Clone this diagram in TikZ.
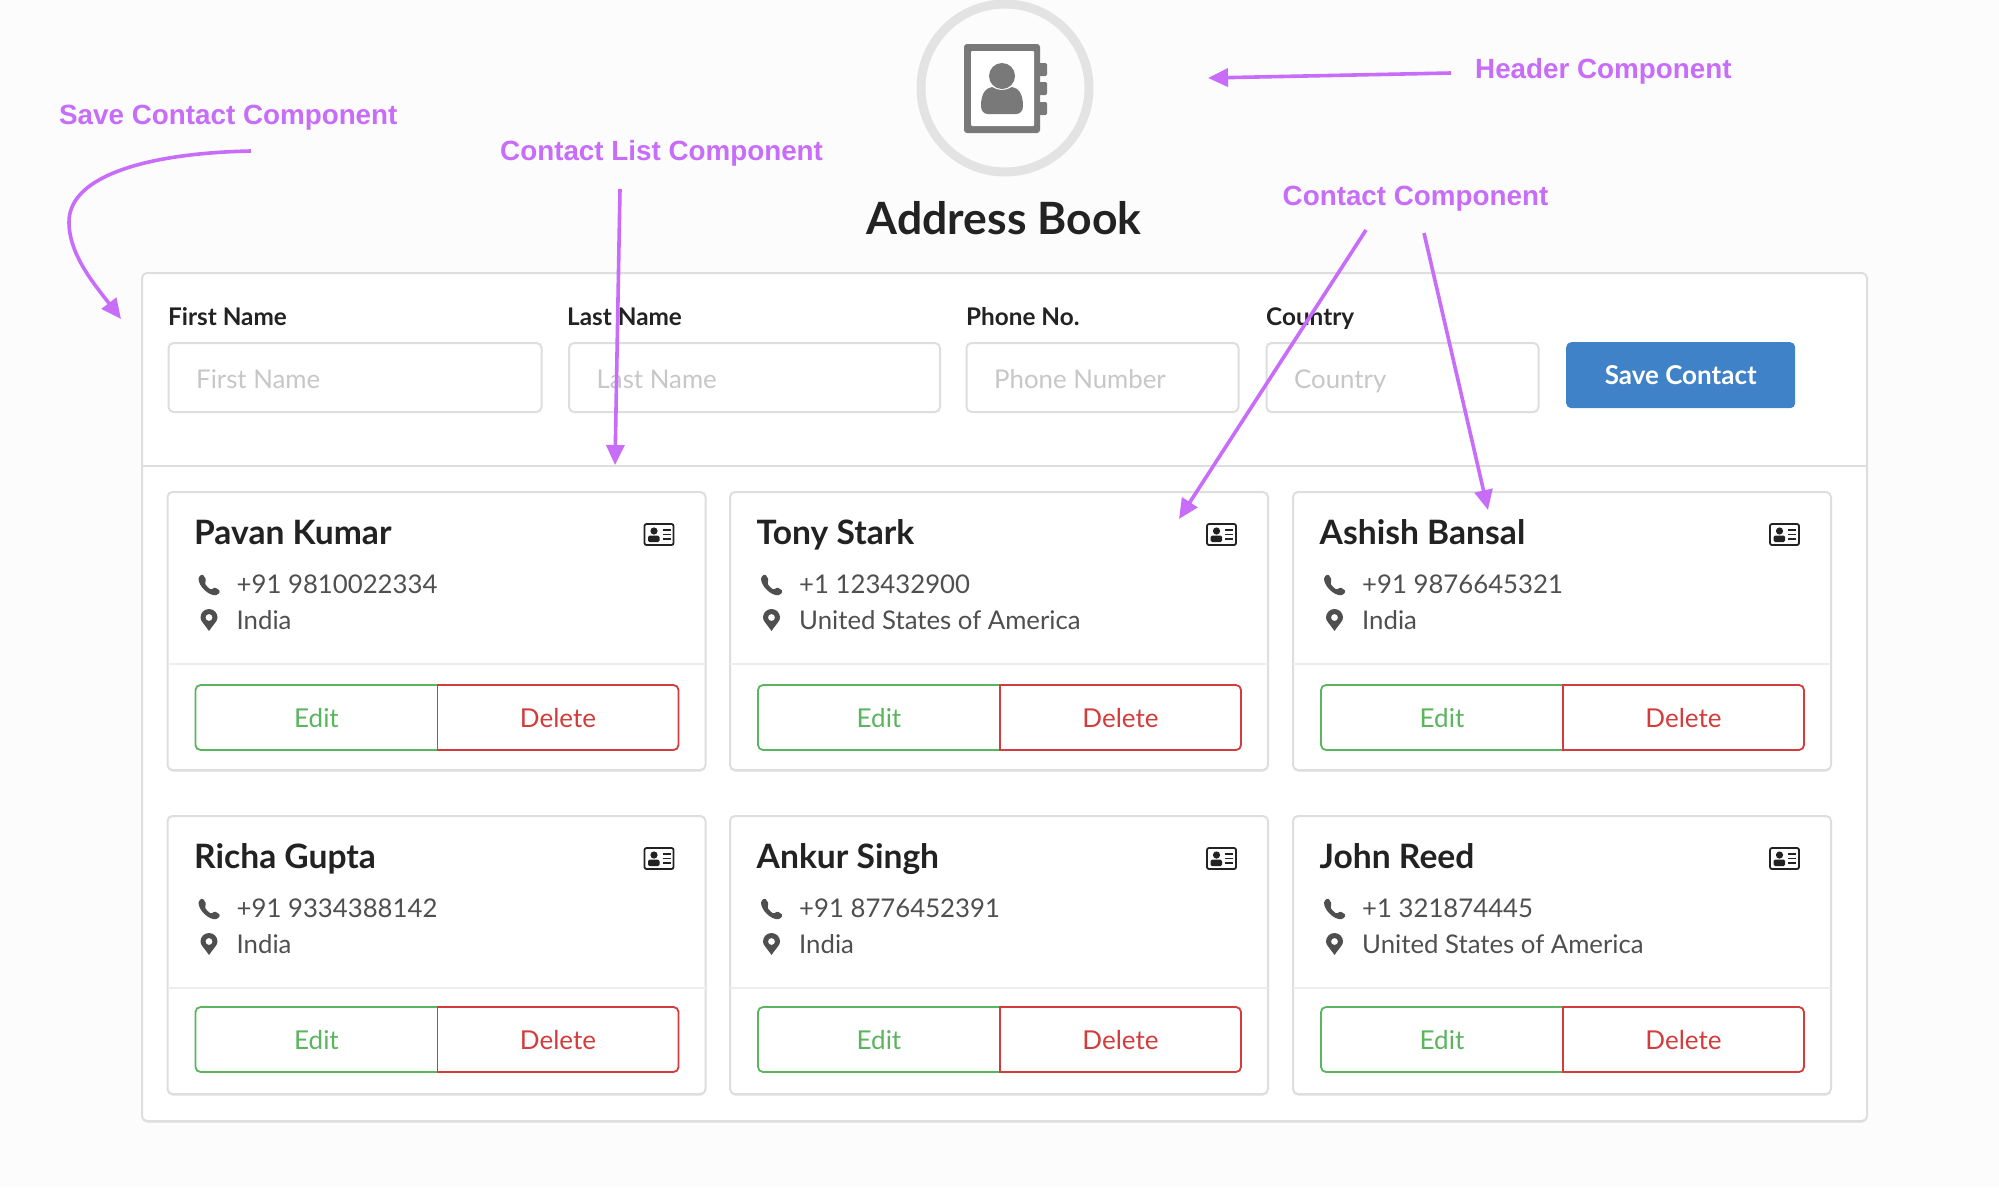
\documentclass[tikz,border=0pt]{standalone}
\usepackage{fontspec}
\setmainfont{Lato}
\newfontfamily\notefont{Liberation Sans}
\usetikzlibrary{arrows.meta, shadows}
\definecolor{notecolor}{HTML}{C76DF9}
\definecolor{rulecolor}{HTML}{DEDEDE}
\definecolor{inkcolor}{HTML}{222222}
\definecolor{bodycolor}{HTML}{4F4F4F}
\definecolor{iconcolor}{HTML}{797979}
\definecolor{editcolor}{HTML}{5AB55E}
\definecolor{deletecolor}{HTML}{D43C3C}
\definecolor{savecolor}{HTML}{4082C8}
\tikzset{%
	every note/.style={
		font=\notefont\bfseries\fontsize{27.8}{32}\selectfont,
		text=notecolor,
		anchor=west,
		inner sep=0pt
	},
	note arrow/.style={
		draw=notecolor,
		line width=3.6pt,
		-{Triangle[length=20pt,width=18pt]}
	},
	panel box/.style={
		draw=rulecolor,
		line width=2pt,
		fill=white,
		rounded corners=5pt,
		anchor=north west,
		outer sep=0pt,
		inner sep=0pt
	},
	soft shadow/.style={
		drop shadow={shadow xshift=0pt, shadow yshift=-1.5pt, fill=black, opacity=.12}
	},
	field label/.style={
		font=\bfseries\fontsize{24.3}{28}\selectfont,
		text=inkcolor,
		anchor=base west,
		inner sep=0pt
	},
	field text/.style={
		font=\fontsize{25.8}{30}\selectfont,
		text=black!22,
		anchor=base west,
		inner sep=0pt
	},
	card name/.style={
		font=\bfseries\fontsize{33.6}{38}\selectfont,
		text=inkcolor,
		anchor=base west,
		inner sep=0pt
	},
	card text/.style={
		font=\fontsize{25.75}{30}\selectfont,
		text=bodycolor,
		anchor=base west,
		inner sep=0pt
	},
	card button/.style={
		font=\fontsize{26}{30}\selectfont,
		minimum height=65pt,
		text height=21pt,
		anchor=north west,
		outer sep=0pt,
		inner sep=0pt
	},
	phoneglyph/.pic={
		\fill[bodycolor, rounded corners=1.5pt] (4,0) -- (8,6) -- (6,9) .. controls (8,12) and (10,14) .. (13,16) -- (16,13) -- (22,17) -- (19,21) .. controls (10,22) and (0,12) .. (0,3) -- cycle;
	},
	pinglyph/.pic={
		\fill[bodycolor, even odd rule] (8.5,22) .. controls (3,14) and (0,12) .. (0,8.5) .. controls (0,3.8) and (3.8,0) .. (8.5,0) .. controls (13.2,0) and (17,3.8) .. (17,8.5) .. controls (17,12) and (14,14) .. (8.5,22) -- cycle (8.5,8.5) circle (3.5);
	},
	cardglyph/.pic={
		\draw[inkcolor, line width=1.8pt, rounded corners=2pt] (0,0) rectangle (29,21);
		\fill[inkcolor] (9.5,7) circle (3.6);
		\fill[inkcolor, rounded corners=1.5pt] (3.5,18) -- (3.5,11.5) -- (15,11.5) -- (15,18) -- cycle;
		\draw[inkcolor, line width=1.4pt] (18,6) -- (26,6) (18,10.5) -- (26,10.5) (18,15) -- (26,15);
	},
	bookglyph/.pic={
		\fill[iconcolor, rounded corners=3pt] (964,44) rectangle (1040,133);
		\fill[white, rounded corners=1pt] (971,51) rectangle (1034,126);
		\foreach \t in {63,82,102}
		\fill[iconcolor, rounded corners=1.5pt] (1036,\t) rectangle (1047,\t+13);
		\fill[iconcolor] (1002,76) circle (13);
		\fill[iconcolor] (981,106) .. controls (981,93) and (986,88) .. (992,87) .. controls (998,91) and (1006,91) .. (1012,87) .. controls (1018,88) and (1023,93) .. (1023,106) .. controls (1023,111) and (1020,114) .. (1016,114) -- (988,114) .. controls (984,114) and (981,111) .. (981,106) -- cycle;
	},
}

\begin{document}
\begin{tikzpicture}[x=1pt, y=-1pt]
		
		\useasboundingbox [fill=black!1] (0,0) rectangle (1999,1187);
		
		\node [draw=black!11, line width=9pt, circle, minimum size=168pt, outer sep=0pt] (logo) at (1005,88) {};
		\pic at (0,0) {bookglyph};
		\node [font=\bfseries\fontsize{44.5}{50}\selectfont, text=inkcolor, inner sep=0pt] (title) at (1004,218.5) {Address Book};
		
		\node [panel box, soft shadow, minimum width=1725pt, minimum height=848pt] (panel) at (142,273) {};
		\draw [rulecolor, line width=2pt] (142,466) -- (1867,466);
		
		\foreach \x/\a/\w/\l/\p [count=\i] in {168.5/168/373/First Name/First Name, 569/567/371/Last Name/Last Name, 966.5/966/272/Phone No./Phone Number, 1266.5/1266/272/Country/Country}
		{
		\node [panel box, minimum width=\w pt, minimum height=69pt] (field-\i) at (\x,343) {};
		\node [field label] (label-\i) at (\a,325) {\l};
		\node [field text] (hint-\i) at (\x+27.5,388) {\p};
		}
		
		\node [fill=savecolor, text=white, rounded corners=5pt, minimum width=229pt, minimum height=66pt, inner sep=0pt, anchor=north west, font=\bfseries\fontsize{26}{30}\selectfont] (save) at (1566,342) {Save Contact};
		
		\foreach \x/\y/\b/\n/\t/\c [count=\i] in {167.5/492/193/Pavan Kumar/+91 9810022334/India, 730/492/193/Tony Stark/+1 123432900/United States of America, 1293/492/193/Ashish Bansal/+91 9876645321/India, 167.5/816/191/Richa Gupta/+91 9334388142/India, 730/816/191/Ankur Singh/+91 8776452391/India, 1293/816/191/John Reed/+1 321874445/United States of America}
		{
		\node [panel box, soft shadow, minimum width=538pt, minimum height=278pt] (card-\i) at (\x,\y) {};
		\draw [black!7, line width=1.5pt] (\x,\y+172) -- (\x+538,\y+172);
		\node [card name] (name-\i) at (\x+26.5,\y+52) {\n};
		\node [card text] (phone-\i) at (\x+69,\y+101) {\t};
		\node [card text] (place-\i) at (\x+69,\y+137) {\c};
		\pic at (\x+31,\y+82) {phoneglyph};
		\pic at (\x+33,\y+117) {pinglyph};
		\pic at (\x+477,\y+32) {cardglyph};
		\node [card button, minimum width=242pt, text=editcolor] (edit-\i) at (\x+28,\y+\b) {Edit};
		\node [card button, minimum width=241pt, text=deletecolor] (delete-\i) at (\x+270,\y+\b) {Delete};
		\draw [editcolor, line width=1.8pt, rounded corners=5pt] (edit-\i.north east) -- (edit-\i.north west) -- (edit-\i.south west) -- (edit-\i.south east);
		\draw [deletecolor, line width=1.8pt, rounded corners=5pt] (delete-\i.north west) -- (delete-\i.north east) -- (delete-\i.south east) -- (delete-\i.south west);
		\draw [deletecolor, line width=1.8pt, line cap=rect] (delete-\i.north west) -- (delete-\i.south west);
		}
		
		\node [every note] (header-note) at (1475,71.5) {Header Component};
		\node [every note] (save-note) at (59,117.5) {Save Contact Component};
		\node [every note] (list-note) at (500,153.5) {Contact List Component};
		\node [every note] (contact-note) at (1282.5,198.5) {Contact Component};
		
		\coordinate (header-from) at (1451,73);
		\coordinate (header-to) at (1208,78);
		\coordinate (save-from) at (251,151);
		\coordinate (save-to) at (121,319);
		\coordinate (list-from) at (620,189);
		\coordinate (list-to) at (615,465);
		\coordinate (contact-from-a) at (1366,230);
		\coordinate (contact-to-a) at (1179,519);
		\coordinate (contact-from-b) at (1424,233);
		\coordinate (contact-to-b) at (1488,510);
		
		\draw [note arrow] (header-from) -- (header-to);
		\draw [note arrow] (save-from) .. controls (150,153) and (69,175) .. (69,222) .. controls (69,255) and (95,285) .. (save-to);
		\draw [note arrow] (list-from) -- (list-to);
		\draw [note arrow] (contact-from-a) -- (contact-to-a);
		\draw [note arrow] (contact-from-b) -- (contact-to-b);
		
		\end{tikzpicture}
\end{document}
